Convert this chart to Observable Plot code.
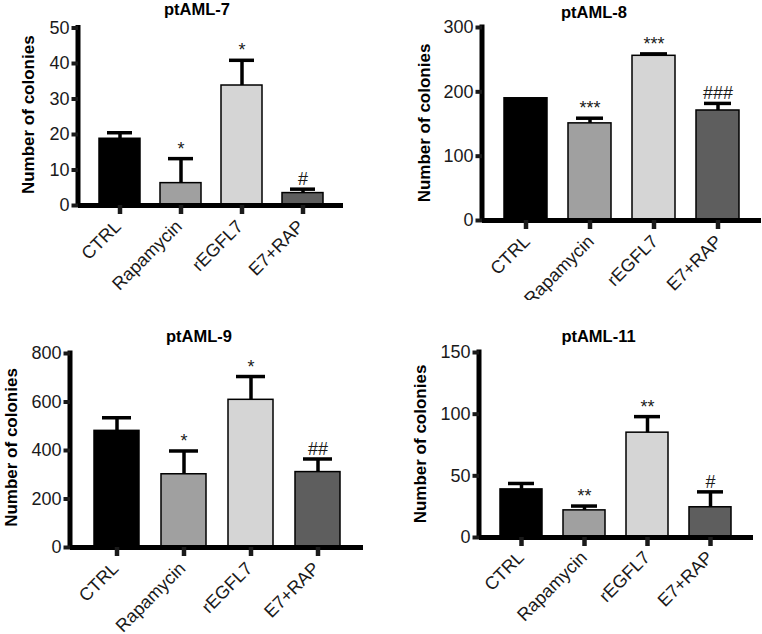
<!DOCTYPE html>
<html><head><meta charset="utf-8">
<script src="https://cdn.jsdelivr.net/npm/d3@7"></script>
<script src="https://cdn.jsdelivr.net/npm/@observablehq/plot@0.6"></script>
<style>
body{margin:0;background:#fff;}
#root{position:relative;width:762px;height:634px;overflow:hidden;}
.panel{position:absolute;}
</style></head><body><div id="root"></div>
<script>
const categories = ["CTRL", "Rapamycin", "rEGFL7", "E7+RAP"];
const barColors = ["#000000", "#a0a0a0", "#d5d5d5", "#5e5e5e"];
const titles = ["ptAML-7", "ptAML-8", "ptAML-9", "ptAML-11"];
const yLabel = "Number of colonies";

const ptAML7Values = [18.8, 6.3, 33.8, 3.5];
const ptAML7Upper  = [20.5, 13.2, 40.9, 4.6];
const ptAML7Signif = ["", "*", "*", "#"];
const ptAML7Ticks  = [0, 10, 20, 30, 40, 50];

const ptAML8Values = [190, 151, 256, 171];
const ptAML8Upper  = [190, 159, 259, 182];
const ptAML8Signif = ["", "***", "***", "###"];
const ptAML8Ticks  = [0, 100, 200, 300];

const ptAML9Values = [481, 302, 609, 311];
const ptAML9Upper  = [535, 398, 705, 365];
const ptAML9Signif = ["", "*", "*", "##"];
const ptAML9Ticks  = [0, 200, 400, 600, 800];

const ptAML11Values = [39, 22, 85, 24.5];
const ptAML11Upper  = [43.8, 25.5, 98, 37];
const ptAML11Signif = ["", "**", "**", "#"];
const ptAML11Ticks  = [0, 50, 100, 150];

const panels = [
  {values: ptAML7Values, upper: ptAML7Upper, signif: ptAML7Signif, ticks: ptAML7Ticks},
  {values: ptAML8Values, upper: ptAML8Upper, signif: ptAML8Signif, ticks: ptAML8Ticks},
  {values: ptAML9Values, upper: ptAML9Upper, signif: ptAML9Signif, ticks: ptAML9Ticks},
  {values: ptAML11Values, upper: ptAML11Upper, signif: ptAML11Signif, ticks: ptAML11Ticks}
];

// layout (positions / sizes only)
const layouts = [
  {left: 0,   top: 0,   width: 381, height: 300, mt: 27.5, mb: 95,   ml: 78,  mr: 38, titleDx: -14, titleDy: -18,   labelDx: -49.5, labelDy: -2, xPad: 18, xDx: -2},
  {left: 381, top: 0,   width: 381, height: 300, mt: 27,   mb: 80,   ml: 101, mr: 1,  titleDx: -28, titleDy: -15,   labelDx: -57.5, labelDy: -1, xPad: 18, xDx: 1},
  {left: 0,   top: 300, width: 381, height: 334, mt: 53,   mb: 87,   ml: 70,  mr: 18, titleDx: -18, titleDy: -16.5, labelDx: -58.5, labelDy: -3, xPad: 18, xDx: -1.5},
  {left: 381, top: 300, width: 381, height: 334, mt: 52,   mb: 97,   ml: 98,  mr: 9,  titleDx: -18, titleDy: -16,   labelDx: -58.5, labelDy: -1, xPad: 17, xDx: -0.5}
];

const font = "'Liberation Sans', Arial, Helvetica, sans-serif";
const root = document.getElementById("root");

panels.forEach((p, i) => {
  const L = layouts[i];
  const rows = categories.map((c, j) => ({cat: c, value: p.values[j], upper: p.upper[j], sig: p.signif[j]}));
  const errRows = rows.filter(d => d.upper > d.value);
  const yMax = p.ticks[p.ticks.length - 1];

  const yAxisLine = (index, scales, values, dim) => {
    const line = document.createElementNS("http://www.w3.org/2000/svg", "line");
    line.setAttribute("x1", dim.marginLeft);
    line.setAttribute("x2", dim.marginLeft);
    line.setAttribute("y1", dim.marginTop - 2.5);
    line.setAttribute("y2", dim.height - dim.marginBottom);
    line.setAttribute("stroke", "#000");
    line.setAttribute("stroke-width", 5);
    return line;
  };

  const chart = Plot.plot({
    width: L.width,
    height: L.height,
    marginTop: L.mt,
    marginBottom: L.mb,
    marginLeft: L.ml,
    marginRight: L.mr,
    style: {fontFamily: font, fontSize: "18px", color: "#1a1a1a", background: "#fff", overflow: "visible"},
    x: {domain: categories, padding: 0.33},
    y: {domain: [0, yMax]},
    color: {domain: categories, range: barColors},
    marks: [
      Plot.barY(rows, {x: "cat", y: "value", fill: "cat", stroke: "#000", strokeWidth: 1.5}),
      Plot.ruleX(errRows, {x: "cat", y1: "value", y2: "upper", stroke: "#000", strokeWidth: 3.5}),
      Plot.tickY(errRows, {x: "cat", y: "upper", stroke: "#000", strokeWidth: 3.5, insetLeft: 8, insetRight: 8}),
      Plot.ruleY([0], {stroke: "#000", strokeWidth: 5}),
      yAxisLine,
      Plot.axisY({ticks: p.ticks, tickSize: 6.5, tickPadding: 2.5, strokeWidth: 4, fontSize: 18, label: null, tickFormat: d => String(d)}),
      Plot.axisX({tickSize: 9, strokeWidth: 4.5, tickFormat: () => "", label: null}),
      Plot.axisX({tickSize: 0, tickPadding: L.xPad, tickRotate: -45, dx: L.xDx, fontSize: 18, label: null}),
      Plot.text(rows, {x: "cat", y: "upper", text: "sig", dy: -4, lineAnchor: "bottom", fontSize: 18, fill: "#1a1a1a"}),
      Plot.text([titles[i]], {frameAnchor: "top", lineAnchor: "middle", dx: L.titleDx, dy: L.titleDy, fontSize: 16.5, fontWeight: "bold", fill: "#000"}),
      Plot.text([yLabel], {frameAnchor: "left", textAnchor: "middle", lineAnchor: "middle", rotate: -90, dx: L.labelDx, dy: L.labelDy, fontSize: 17, fontWeight: "bold", fill: "#000"})
    ]
  });
  const div = document.createElement("div");
  div.className = "panel";
  div.style.left = L.left + "px";
  div.style.top = L.top + "px";
  div.appendChild(chart);
  root.appendChild(div);
});
</script>
</body></html>
